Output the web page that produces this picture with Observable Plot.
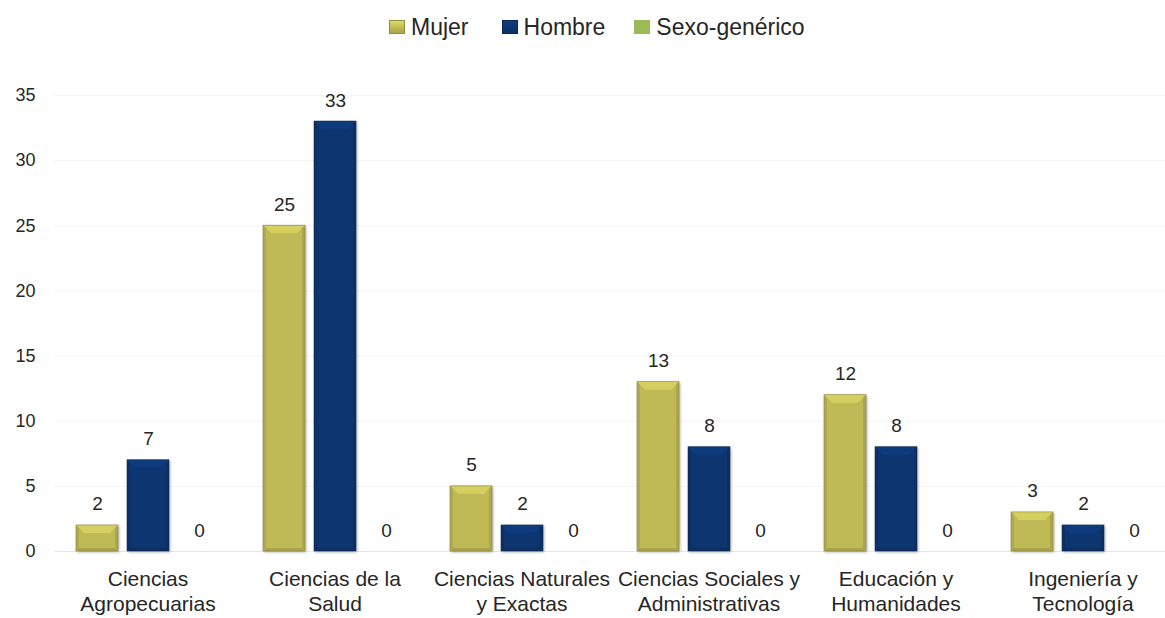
<!DOCTYPE html>
<html>
<head>
<meta charset="utf-8">
<script src="https://cdn.jsdelivr.net/npm/d3@7"></script>
<script src="https://cdn.jsdelivr.net/npm/@observablehq/plot@0.6"></script>
<style>
  html, body { margin: 0; padding: 0; background: #fff; }
  body { width: 1165px; height: 618px; position: relative; overflow: hidden;
         font-family: "Liberation Sans", Arial, sans-serif; color: #262626; }
  #legend { position: absolute; left: 389px; top: 13px; display: flex; align-items: center;
            font-size: 23px; line-height: 28px; }
  .item { display: flex; align-items: center; }
  .sw { width: 16px; height: 14px; margin-right: 6px; box-sizing: border-box; }
  #chart { position: absolute; left: 0; top: 50px; }
</style>
</head>
<body>
<div id="legend"></div>
<div id="chart"></div>
<script>
const categories = ["Ciencias Agropecuarias", "Ciencias de la Salud", "Ciencias Naturales y Exactas",
  "Ciencias Sociales y Administrativas", "Educación y Humanidades", "Ingeniería y Tecnología"];
const categoryLabels = ["Ciencias\nAgropecuarias", "Ciencias de la\nSalud", "Ciencias Naturales\ny Exactas",
  "Ciencias Sociales y\nAdministrativas", "Educación y\nHumanidades", "Ingeniería y\nTecnología"];
const series = ["Mujer", "Hombre", "Sexo-genérico"];
const mujer = [2, 25, 5, 13, 12, 3];
const hombre = [7, 33, 2, 8, 8, 2];
const sexoGenerico = [0, 0, 0, 0, 0, 0];
const seriesColors = ["#bfba55", "#0d3570", "#9bbb59"];
const yTicks = [0, 5, 10, 15, 20, 25, 30, 35];

const values = [mujer, hombre, sexoGenerico];
const data = [];
categories.forEach((c, i) => series.forEach((s, j) => data.push({cat: c, series: s, value: values[j][i]})));

// Legend
const legend = document.getElementById("legend");
const gaps = [33, 29, 0];
series.forEach((s, j) => {
  const it = document.createElement("div");
  it.className = "item";
  it.style.marginRight = gaps[j] + "px";
  const sw = document.createElement("div");
  sw.className = "sw";
  const c = d3.color(seriesColors[j]);
  if (j < 2) {
    sw.style.background = `linear-gradient(to bottom, ${c.brighter(0.45)} 0%, ${c} 55%, ${c.darker(0.3)} 100%)`;
    sw.style.border = "1px solid " + c.darker(0.8);
  } else {
    sw.style.background = seriesColors[j];
  }
  const tx = document.createElement("span");
  tx.textContent = s;
  it.appendChild(sw); it.appendChild(tx);
  legend.appendChild(it);
});

const chart = Plot.plot({
  width: 1165,
  height: 568,
  marginLeft: 54,
  marginRight: -11,
  marginTop: 45,
  marginBottom: 67,
  style: {fontFamily: "Liberation Sans, Arial, sans-serif", color: "#262626", background: "transparent"},
  fx: {domain: categories, padding: 0, label: null, axis: null},
  x: {domain: series, paddingInner: 0.184, paddingOuter: 0.408, axis: null},
  y: {domain: [0, 35], label: null},
  color: {domain: series, range: seriesColors},
  marks: [
    Plot.ruleY(yTicks.slice(1), {stroke: "#f4f4f4", strokeWidth: 1}),
    Plot.ruleY([0], {stroke: "#e6e6e6", strokeWidth: 1.2}),
    Plot.axisY({ticks: yTicks, tickSize: 0, tickPadding: 19, fontSize: 18, label: null}),
    Plot.axisFx({anchor: "bottom", tickSize: 0, tickPadding: 17, fontSize: 21, lineHeight: 1.17, label: null,
      tickFormat: d => categoryLabels[categories.indexOf(d)]}),
    Plot.barY(data, {fx: "cat", x: "series", y: "value", fill: "series", className: "bars"}),
    Plot.text(data, {fx: "cat", x: "series", y: "value", text: d => String(d.value),
      dy: -15, lineAnchor: "bottom", fontSize: 19, fill: "#262626"})
  ]
});
document.getElementById("chart").appendChild(chart);

// Bevel styling for bars
d3.select(chart).selectAll(".bars rect").each(function() {
  const r = d3.select(this);
  const x = +r.attr("x"), y = +r.attr("y"), w = +r.attr("width"), h = +r.attr("height");
  const fill = r.attr("fill");
  if (!(h > 0)) return;
  const c = d3.color(fill);
  const p = d3.select(this.parentNode);
  r.style("filter", "drop-shadow(1.5px 1.5px 1.5px rgba(0,0,0,0.35))");
  const b = Math.min(8, h / 2, w / 2);
  const sb = Math.min(3, h / 2);
  const poly = (pts, col) => p.append("polygon").attr("points", pts.map(q => q.join(",")).join(" ")).attr("fill", col);
  poly([[x, y], [x + w, y], [x + w - b, y + b], [x + b, y + b]], c.brighter(0.3));
  poly([[x, y], [x + sb, y + sb], [x + sb, y + h - sb], [x, y + h]], c.darker(0.25));
  poly([[x + w, y], [x + w - sb, y + sb], [x + w - sb, y + h - sb], [x + w, y + h]], c.darker(0.3));
  poly([[x, y + h], [x + sb, y + h - sb], [x + w - sb, y + h - sb], [x + w, y + h]], c.darker(0.35));
  p.append("rect").attr("x", x).attr("y", y).attr("width", w).attr("height", h)
    .attr("fill", "none").attr("stroke", c.darker(1.2)).attr("stroke-opacity", 0.6).attr("stroke-width", 0.8);
});
</script>
</body>
</html>
